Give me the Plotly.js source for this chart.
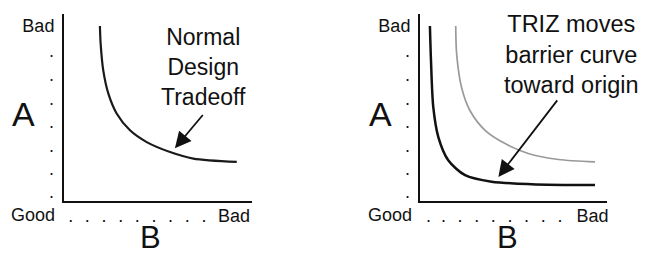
<!DOCTYPE html>
<html>
<head>
<meta charset="utf-8">
<script src="https://cdn.plot.ly/plotly-3.0.1.min.js"></script>
<style>
  html, body { margin: 0; padding: 0; background: #fff; }
  #chart { width: 645px; height: 255px; }
</style>
</head>
<body>
<div id="chart"></div>
<script>
// ---- Data (axis units 0..10) ----
const normalTradeoffX = [1.91, 1.95, 2.09, 2.36, 2.80, 3.51, 4.40, 5.64, 6.88, 9.19];
const normalTradeoffY = [9.36, 8.40, 6.97, 5.74, 4.68, 3.78, 3.15, 2.62, 2.27, 2.09];

const oldBarrierX = [1.91, 1.96, 2.22, 2.67, 3.48, 4.55, 5.79, 7.40, 9.36];
const oldBarrierY = [9.36, 7.87, 6.08, 4.84, 3.78, 3.07, 2.54, 2.22, 2.09];

const trizBarrierX = [0.53, 0.59, 0.71, 0.98, 1.51, 2.41, 3.83, 5.97, 9.36];
const trizBarrierY = [9.36, 7.45, 5.02, 3.42, 2.18, 1.38, 1.03, 0.90, 0.85];

// tick positions / labels
const yTickVals = [0.27, 1.49, 2.77, 4.04, 5.27, 6.54, 7.82, 9.36];
const yTickText = ['·', '·', '·', '·', '·', '·', '·', 'Bad'];
const xTickValsLeft = [0.36, 1.24, 2.13, 3.02, 3.90, 4.79, 5.67, 6.56, 7.45, 9.04];
const xTickValsRight = [0.45, 1.25, 2.14, 3.03, 3.92, 4.81, 5.70, 6.59, 7.49, 9.22];
const xTickText = ['.', '.', '.', '.', '.', '.', '.', '.', '.', 'Bad'];
const originLabel = 'Good';
const yAxisName = 'A';
const xAxisName = 'B';
const leftNote = 'Normal<br>Design<br>Tradeoff';
const rightNote = 'TRIZ moves<br>barrier curve<br>toward origin';

// arrows: [tipX, tipY, tailX, tailY]
const leftArrow = [5.90, 2.82, 7.45, 4.68];
const rightArrow = [4.19, 1.29, 7.40, 5.46];

const FONT = 'Liberation Sans, Arial, Helvetica, sans-serif';
const INK = '#111';
const W = 645, H = 255;
const px = v => v / W;
const py = v => 1 - v / H;

const traces = [
  { x: normalTradeoffX, y: normalTradeoffY, xaxis: 'x', yaxis: 'y', mode: 'lines',
    line: { color: '#1a1a1a', width: 2.2, shape: 'spline', smoothing: 0.8 }, hoverinfo: 'skip' },
  { x: oldBarrierX, y: oldBarrierY, xaxis: 'x2', yaxis: 'y2', mode: 'lines',
    line: { color: '#9a9a9a', width: 1.7, shape: 'spline', smoothing: 0.8 }, hoverinfo: 'skip' },
  { x: trizBarrierX, y: trizBarrierY, xaxis: 'x2', yaxis: 'y2', mode: 'lines',
    line: { color: '#111', width: 2.5, shape: 'spline', smoothing: 0.8 }, hoverinfo: 'skip' }
];

function xAxis(domain, tickvals) {
  return {
    domain: domain, range: [0, 10], showgrid: false, zeroline: false,
    showline: true, linecolor: INK, linewidth: 2, ticks: '',
    tickmode: 'array', tickvals: tickvals, ticktext: xTickText,
    tickfont: { family: FONT, size: 18, color: INK }, ticklabelstandoff: -3,
    tickangle: 0, fixedrange: true
  };
}
function yAxis(anchor) {
  return {
    anchor: anchor, domain: [py(201), py(14)], range: [0, 10], showgrid: false, zeroline: false,
    showline: true, linecolor: INK, linewidth: 2, ticks: '',
    tickmode: 'array', tickvals: yTickVals, ticktext: yTickText,
    tickfont: { family: FONT, size: 18, color: INK }, ticklabelstandoff: 4,
    fixedrange: true
  };
}

function label(text, x, y, size) {
  return { text: text, xref: 'paper', yref: 'paper', x: px(x), y: py(y),
    xanchor: 'center', yanchor: 'middle', showarrow: false,
    font: { family: FONT, size: size, color: INK } };
}
function arrow(a, xr, yr) {
  return { text: '', xref: xr, yref: yr, axref: xr, ayref: yr,
    x: a[0], y: a[1], ax: a[2], ay: a[3], showarrow: true,
    arrowhead: 2, arrowsize: 1.8, arrowwidth: 1.8, arrowcolor: INK, standoff: 0 };
}

const layout = {
  width: W, height: H,
  margin: { l: 0, r: 0, t: 0, b: 0 },
  paper_bgcolor: '#fff', plot_bgcolor: '#fff',
  showlegend: false,
  xaxis: Object.assign(xAxis([px(64), px(252)], xTickValsLeft), { anchor: 'y' }),
  yaxis: yAxis('x'),
  xaxis2: Object.assign(xAxis([px(420), px(607)], xTickValsRight), { anchor: 'y2' }),
  yaxis2: yAxis('x2'),
  annotations: [
    label(originLabel, 32.5, 215, 18),
    label(originLabel, 390, 215, 18),
    label(yAxisName, 23.5, 114, 34),
    label(yAxisName, 380, 114, 34),
    label(xAxisName, 150, 237.5, 31),
    label(xAxisName, 507, 237.5, 31),
    label(leftNote, 203, 67, 23),
    label(rightNote, 571, 54, 23.5),
    arrow(leftArrow, 'x', 'y'),
    arrow(rightArrow, 'x2', 'y2')
  ]
};

Plotly.newPlot('chart', traces, layout, { staticPlot: true, displayModeBar: false });
</script>
</body>
</html>
